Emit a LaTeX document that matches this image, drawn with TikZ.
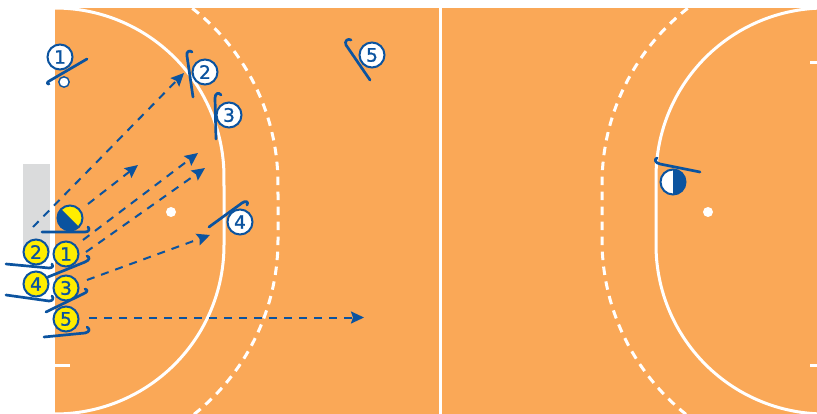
\documentclass[tikz,border=0pt]{standalone}
\usepackage{fontspec}
\setmainfont{DejaVu Sans}
\newfontfamily\numfont[FakeBold=1.2]{DejaVu Sans}
\usetikzlibrary{arrows.meta}
\definecolor{fieldor}{HTML}{FAA857}
\definecolor{teamblue}{HTML}{0B539F}
\definecolor{teamyel}{HTML}{FFED00}
\definecolor{goalgrey}{HTML}{DADBDC}
\tikzset{
  courtline/.style={white,line width=3pt},
  courtdash/.style={white,line width=3pt,dash pattern=on 8.5pt off 6.5pt},
  runline/.style={teamblue,line width=2pt,dash pattern=on 8pt off 7pt,-{Stealth[length=13pt,width=12pt,inset=2pt]}},
  stick/.style={teamblue,line width=2.7pt,line cap=round,line join=round},
  player/.style={circle,draw=teamblue,line width=2pt,minimum size=25pt,inner sep=0pt,text=teamblue,font=\numfont\fontsize{18.5}{18.5}\selectfont},
  attacker/.style={player,fill=teamyel},
  defender/.style={player,fill=white}
}
\begin{document}
\begin{tikzpicture}[x=1pt,y=-1pt]
\useasboundingbox (0,0) rectangle (817,414);
% goal and field
\fill[goalgrey] (23,164) rectangle (50,252);
\fill[fieldor] (55,8) rectangle (817,414);
\begin{scope}
\clip (55,8) rectangle (817,414);
\draw[courtline] (440,8) -- (440,414);
\draw[courtline] (55,63) -- (70,63) (55,365) -- (70,365) (810,63) -- (817,63) (810,365) -- (817,365);
% left circle
\draw[courtline] plot[domain=90:0,samples=70] ({55+169*cos(\x)},{177-169*sin(\x)})
  -- plot[domain=0:-90,samples=70] ({55+169*cos(\x)},{245-169*sin(\x)});
\draw[courtdash] plot[domain=52:0,samples=70] ({55+223*cos(\x)},{184-223*sin(\x)})
  -- plot[domain=0:-52,samples=70] ({55+223*cos(\x)},{240-223*sin(\x)});
% right circle
\draw[courtline] plot[domain=90:180,samples=70] ({825+169*cos(\x)},{177-169*sin(\x)})
  -- plot[domain=180:270,samples=70] ({825+169*cos(\x)},{245-169*sin(\x)});
\draw[courtdash] plot[domain=128:180,samples=70] ({825+223*cos(\x)},{184-223*sin(\x)})
  -- plot[domain=180:232,samples=70] ({825+223*cos(\x)},{240-223*sin(\x)});
\end{scope}
\fill[white] (171,212) circle (5);
\fill[white] (708,212) circle (5);
% sticks
\draw[stick] (87,59) -- (51,80) .. controls (47,82) and (46,84) .. (49,84);
\draw[stick] (193,97) -- (187,56) .. controls (186,51) and (190,50) .. (192,52);
\draw[stick] (216,139) -- (215,98) .. controls (215,93) and (219,92) .. (221,95);
\draw[stick] (209,227) -- (242,203) .. controls (246,200) and (249,202) .. (247,205);
\draw[stick] (370,80) -- (346,45) .. controls (344,41) and (348,38) .. (351,40);
\draw[stick] (700,172) -- (660,164) .. controls (655,163) and (654,159) .. (657,158);
\draw[stick] (42,232) -- (85,232) .. controls (89,232) and (90,229) .. (88,227);
\draw[stick] (48,277) -- (85,262) .. controls (90,260) and (90,257) .. (87,256);
\draw[stick] (6,264) -- (49,268) .. controls (53,268) and (54,265) .. (52,264);
\draw[stick] (6,295) -- (49,301) .. controls (53,301) and (54,298) .. (52,296);
\draw[stick] (46,312) -- (83,294) .. controls (88,292) and (88,290) .. (85,289);
\draw[stick] (44,337) -- (85,333) .. controls (90,332) and (90,329) .. (87,327);
% ball
\filldraw[fill=white,draw=teamblue,line width=1.4pt] (64,82) circle (5.2);
% attackers
\node[attacker] (y1) at (66,254) {1};
\node[attacker] (y2) at (36,252) {2};
\node[attacker] (y4) at (36,284) {4};
\node[attacker] (y3) at (66,288) {3};
\node[attacker] (y5) at (66,319) {5};
% defenders
\node[defender] (w1) at (60,57) {1};
\node[defender] (w2) at (205,72) {2};
\node[defender] (w3) at (229,115) {3};
\node[defender] (w4) at (240,222) {4};
\node[defender] (w5) at (372,55) {5};
% goalkeepers
\node[player,fill=teamyel] (gk1) at (70,218) {};
\begin{scope}
\clip (gk1.center) circle (12.5);
\fill[teamblue] (50,198) -- (90,238) -- (50,238) -- cycle;
\end{scope}
\node[player,fill=white] (gk2) at (673,182) {};
\begin{scope}
\clip (gk2.center) circle (12.5);
\fill[teamblue] (673,165) rectangle (690,199);
\end{scope}
% run paths
\coordinate (s1) at (33,227);
\coordinate (t1) at (184,73);
\coordinate (s2) at (88,204);
\coordinate (t2) at (138,165);
\coordinate (s3) at (83,240);
\coordinate (t3) at (198,153);
\coordinate (s4) at (86,252);
\coordinate (t4) at (205,168);
\coordinate (s5) at (87,280);
\coordinate (t5) at (210,235);
\coordinate (s6) at (89,317.5);
\coordinate (t6) at (364,317.5);
\draw[runline] (s1) -- (t1);
\draw[runline] (s2) -- (t2);
\draw[runline] (s3) -- (t3);
\draw[runline] (s4) -- (t4);
\draw[runline] (s5) -- (t5);
\draw[runline] (s6) -- (t6);
\end{tikzpicture}
\end{document}
